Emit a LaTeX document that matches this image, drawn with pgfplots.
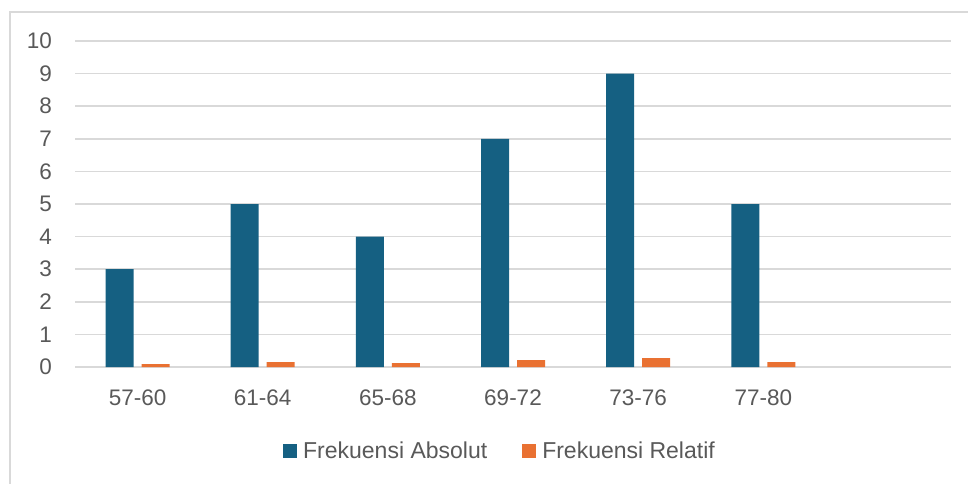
\documentclass[border=0pt]{standalone}
\usepackage{pgfplots}
\pgfplotsset{compat=1.18}
\usepackage{fontspec}
\setmainfont{Liberation Sans}
\definecolor{cblue}{HTML}{156082}
\definecolor{corange}{HTML}{E97132}
\definecolor{cgrid}{HTML}{D9D9D9}
\definecolor{ctext}{HTML}{595959}
\begin{document}
\begin{tikzpicture}
\useasboundingbox (0pt,0pt) rectangle (968pt,-484pt);
\draw[cgrid, line width=1.5pt] (10pt,-484pt) -- (10pt,-12pt) -- (968pt,-12pt);
\begin{axis}[
  at={(75pt,-367pt)}, anchor=south west,
  scale only axis, width=876pt, height=326pt,
  ybar=8pt, bar width=28pt,
  xmin=-0.5, xmax=6.5, ymin=0, ymax=10,
  xtick={0,1,2,3,4,5},
  xticklabels={57-60,61-64,65-68,69-72,73-76,77-80},
  ytick={0,1,...,10},
  major tick length=0pt,
  axis line style={draw=none},
  ymajorgrids, grid style={cgrid, line width=1.5pt},
  /pgf/number format/assume math mode=true,
  ticklabel style={font=\fontsize{22.5}{26}\selectfont, text=ctext, inner sep=0pt},
  yticklabel style={anchor=east, xshift=-23pt},
  xticklabel style={anchor=base, yshift=-38pt},
  legend columns=2,
  legend style={at={(axis description cs:0.2374,-0.2577)}, anchor=west, draw=none,
    inner sep=0pt, font=\fontsize{23}{27}\selectfont, text=ctext,
    nodes={inner sep=0pt},
    /tikz/every odd column/.append style={column sep=6pt},
    /tikz/every even column/.append style={column sep=35pt}},
  legend image code/.code={\fill[#1] (0pt,-7pt) rectangle (14pt,7pt);},
]
\addplot[fill=cblue, draw=none] coordinates {(0,3) (1,5) (2,4) (3,7) (4,9) (5,5)};
\addplot[fill=corange, draw=none] coordinates {(0,0.09) (1,0.15) (2,0.12) (3,0.21) (4,0.27) (5,0.15)};
\legend{Frekuensi Absolut, Frekuensi Relatif}
\end{axis}
\end{tikzpicture}
\end{document}
